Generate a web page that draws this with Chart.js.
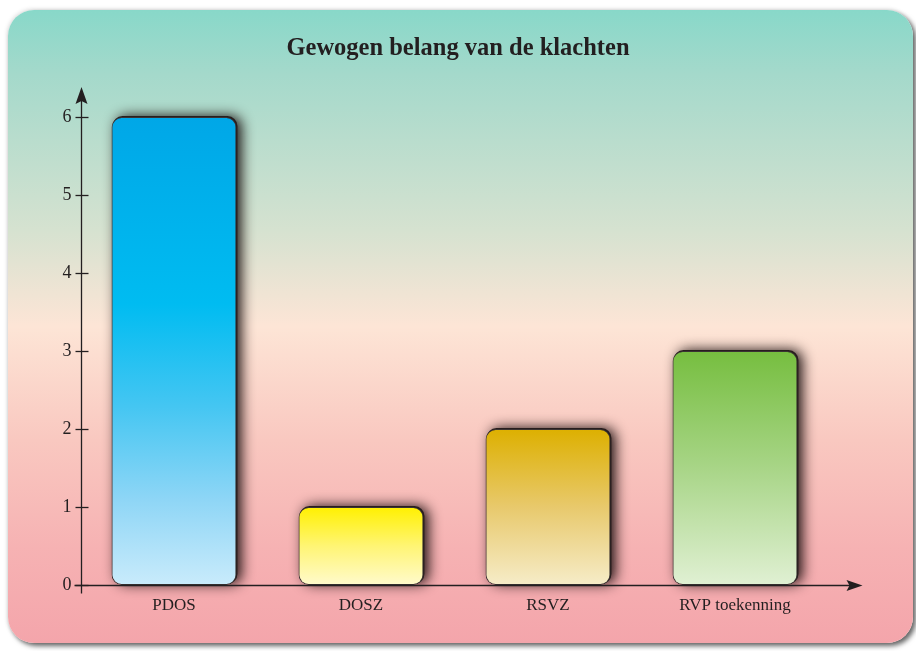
<!DOCTYPE html>
<html>
<head>
<meta charset="utf-8">
<script src="https://cdn.jsdelivr.net/npm/chart.js@4.4.1/dist/chart.umd.min.js"></script>
<style>
    html, body { margin: 0; padding: 0; overflow: hidden; background: #ffffff; }
    #wrap { position: relative; width: 916px; height: 651px; }
    #panel {
        position: absolute; left: 8px; top: 10px; width: 905px; height: 633px;
        border-radius: 26px;
        background: linear-gradient(to bottom, #88d8c9 0%, #a4d9cb 10%, #d6e2d0 35%, #fde5d6 50%, #f9c8c0 68%, #f6b2b3 85%, #f4a5ab 100%);
        box-shadow: 3px 3px 5px rgba(0, 0, 0, 0.6), -1px -1px 4px rgba(0, 0, 0, 0.12);
    }
    #chart { position: absolute; left: 0; top: 0; }
</style>
</head>
<body>
<div id="wrap">
    <div id="panel"></div>
    <canvas id="chart" width="916" height="651"></canvas>
</div>
<script>
// donnees du graphique
const categories = ['PDOS', 'DOSZ', 'RSVZ', 'RVP toekenning'];
const waarden = [6, 1, 2, 3];
const yTicks = [0, 1, 2, 3, 4, 5, 6];

// couleurs des degrades de chaque barre (haut -> bas)
const kleuren = [
    [[0, '#00a7e7'], [0.4, '#00bcf1'], [0.62, '#45c6f2'], [0.82, '#8fd6f6'], [1, '#c9ebfb']],
    [[0, '#fff000'], [0.5, '#fff574'], [1, '#fffacc']],
    [[0, '#ddb000'], [0.5, '#e8c96c'], [1, '#f6ecc8']],
    [[0, '#76be3f'], [0.5, '#a8d587'], [1, '#e0f0d3']]
];

const inkt = '#231f20';
const lettertype = "'Liberation Serif', 'DejaVu Serif', serif";

// degrade vertical pour chaque barre
function barGradient(context) {
    const chart = context.chart;
    const stops = kleuren[context.dataIndex];
    if (!chart.chartArea || !chart.scales.y) return stops[0][1];
    const y = chart.scales.y;
    const top = y.getPixelForValue(waarden[context.dataIndex]);
    const bottom = y.getPixelForValue(0);
    const g = chart.ctx.createLinearGradient(0, top, 0, bottom);
    stops.forEach(s => g.addColorStop(s[0], s[1]));
    return g;
}

// ombre floue derriere les barres
const schaduwPlugin = {
    id: 'schaduw',
    beforeDatasetsDraw(chart) {
        const ctx = chart.ctx;
        const meta = chart.getDatasetMeta(0);
        ctx.save();
        ctx.shadowColor = 'rgba(20, 10, 10, 0.95)';
        ctx.shadowBlur = 13;
        ctx.shadowOffsetX = 4;
        ctx.shadowOffsetY = 0;
        ctx.fillStyle = 'rgba(40, 30, 30, 1)';
        meta.data.forEach(bar => {
            const left = bar.x - bar.width / 2;
            ctx.beginPath();
            ctx.roundRect(left + 1, bar.y - 1, bar.width, bar.base - bar.y, 10);
            ctx.fill();
        });
        ctx.restore();
    }
};

// axes avec fleches et petits traits
const assenPlugin = {
    id: 'assen',
    afterDatasetsDraw(chart) {
        const ctx = chart.ctx;
        const area = chart.chartArea;
        const y = chart.scales.y;
        const x0 = Math.round(area.left) + 0.5;
        const y0 = Math.round(y.getPixelForValue(0)) + 0.5;
        ctx.save();
        ctx.strokeStyle = inkt;
        ctx.fillStyle = inkt;
        ctx.lineWidth = 1.3;

        // axe vertical
        ctx.beginPath();
        ctx.moveTo(x0, y0 + 8);
        ctx.lineTo(x0, area.top - 20);
        ctx.stroke();
        ctx.beginPath();
        ctx.moveTo(x0, area.top - 30);
        ctx.lineTo(x0 - 6, area.top - 13);
        ctx.lineTo(x0, area.top - 16);
        ctx.lineTo(x0 + 6, area.top - 13);
        ctx.closePath();
        ctx.fill();

        // axe horizontal
        ctx.beginPath();
        ctx.moveTo(x0 - 7, y0);
        ctx.lineTo(area.right + 25, y0);
        ctx.stroke();
        ctx.beginPath();
        ctx.moveTo(area.right + 34, y0);
        ctx.lineTo(area.right + 18, y0 - 5.5);
        ctx.lineTo(area.right + 21, y0);
        ctx.lineTo(area.right + 18, y0 + 5.5);
        ctx.closePath();
        ctx.fill();

        // traits des graduations
        yTicks.forEach(v => {
            const py = Math.round(y.getPixelForValue(v)) + 0.5;
            ctx.beginPath();
            ctx.moveTo(x0 - 6, py);
            ctx.lineTo(x0 + 7, py);
            ctx.stroke();
        });
        ctx.restore();
    }
};

const canvas = document.getElementById('chart');
const barChart = new Chart(canvas, {
    type: 'bar',
    data: {
        labels: categories,
        datasets: [{
            data: waarden,
            backgroundColor: barGradient,
            borderColor: '#3a3333',
            borderWidth: 1,
            borderRadius: 10,
            borderSkipped: false,
            categoryPercentage: 1,
            barPercentage: 0.668
        }]
    },
    options: {
        responsive: false,
        animation: false,
        layout: { padding: 0 },
        plugins: {
            legend: { display: false },
            tooltip: { enabled: false },
            title: {
                display: true,
                text: 'Gewogen belang van de klachten',
                color: inkt,
                font: { family: lettertype, size: 24.5, weight: 'bold' },
                padding: { top: 34, bottom: 53.6 }
            }
        },
        scales: {
            x: {
                grid: { display: false, drawTicks: false },
                border: { display: false },
                ticks: { color: inkt, font: { family: lettertype, size: 17 }, padding: 10 },
                afterFit(scale) { scale.height = 66; }
            },
            y: {
                min: 0,
                max: 6,
                grid: { display: false, drawTicks: false },
                border: { display: false },
                ticks: {
                    stepSize: 1,
                    color: inkt,
                    font: { family: lettertype, size: 18 },
                    padding: 9,
                    callback: (v) => yTicks.includes(v) ? String(v) : ''
                },
                afterFit(scale) { scale.width = 80.5; }
            },
            // axe vide a droite : laisse la place pour la fleche
            rechts: {
                position: 'right',
                grid: { display: false, drawTicks: false },
                border: { display: false },
                ticks: { display: false },
                afterFit(scale) { scale.width = 87.5; }
            }
        }
    },
    plugins: [schaduwPlugin, assenPlugin]
});
</script>
</body>
</html>
